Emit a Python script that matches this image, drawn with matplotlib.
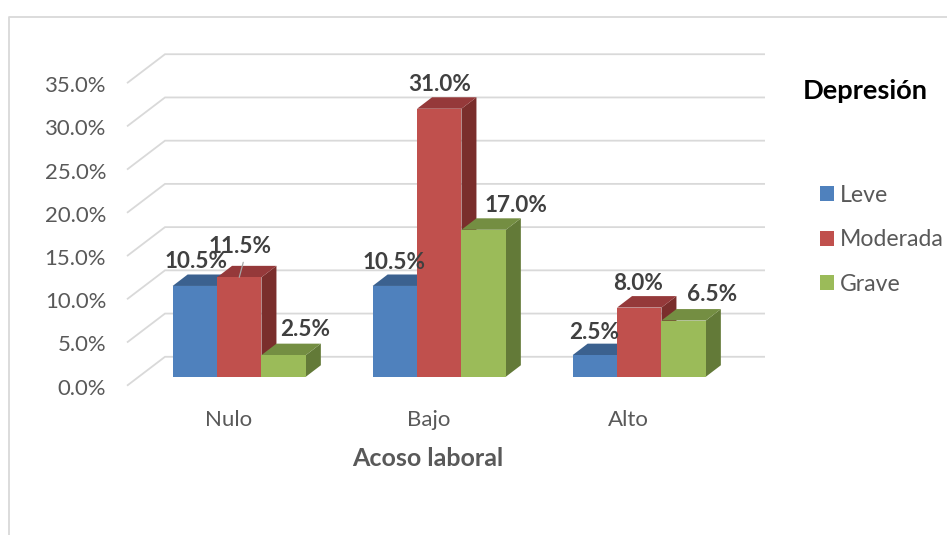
import matplotlib
matplotlib.use("Agg")
import matplotlib.pyplot as plt
from matplotlib.lines import Line2D
from matplotlib.patches import Patch, Polygon

categories = ["Nulo", "Bajo", "Alto"]
leve = [10.5, 10.5, 2.5]
moderada = [11.5, 31.0, 8.0]
grave = [2.5, 17.0, 6.5]
series_names = ["Leve", "Moderada", "Grave"]
y_ticks = [0, 5, 10, 15, 20, 25, 30, 35]

W, H = 947, 535
PX_X = 200.0   # pixels per category
PX_Y = 8.67    # pixels per percent

front_colors = ["#4F81BD", "#C0504D", "#9BBB59"]
top_colors = ["#3B618F", "#95393A", "#748E42"]
side_colors = ["#335478", "#7A2E2C", "#637A38"]
TEXT = "#595959"
LABEL = "#404040"
GRID = "#D9D9D9"

plt.rcParams["font.family"] = ["Lato", "DejaVu Sans"]

fig = plt.figure(figsize=(W / 100, H / 100), dpi=100)

# axes box in pixels, bars stand on y=0 at pixel row 377.7
zero_row = 377.7
left, right, top, bottom = 127, 765, 45.7, 386.7
ax = fig.add_axes([left / W, 1 - bottom / H, (right - left) / W, (bottom - top) / H])
ax.set_xlim((left - 239.25) / PX_X, (right - 239.25) / PX_X)
y_front = (zero_row - bottom) / PX_Y
ax.set_ylim(y_front, (zero_row - top) / PX_Y)
for s in ax.spines.values():
    s.set_visible(False)

# back wall lines with the oblique run towards the front
wall_dx = 38 / PX_X
wall_dy = 29 / PX_Y
x0 = ax.get_xlim()[0]
x1 = ax.get_xlim()[1]
for v in y_ticks:
    yf = v + y_front
    ax.plot([x0, x0 + wall_dx, x1], [yf, yf + wall_dy, yf + wall_dy],
            color=GRID, lw=1.3, zorder=1, solid_capstyle="butt", solid_joinstyle="miter", clip_on=False)

# bars
bar_w = 44.4 / PX_X
depth_x = 15 / PX_X
depth_y = 11.5 / PX_Y
all_series = [leve, moderada, grave]
z = 2
for i in range(len(categories)):
    for j, vals in enumerate(all_series):
        x = i + (j - 1) * bar_w
        v = vals[i]
        l = x - bar_w / 2
        r = x + bar_w / 2
        ax.add_patch(Polygon([(r, 0), (r + depth_x, depth_y), (r + depth_x, v + depth_y), (r, v)],
                             facecolor=side_colors[j], edgecolor="none", zorder=z))
        ax.add_patch(Polygon([(l, v), (l + depth_x, v + depth_y), (r + depth_x, v + depth_y), (r, v)],
                             facecolor=top_colors[j], edgecolor="none", zorder=z))
        ax.bar(x, v, width=bar_w, color=front_colors[j], zorder=z + 0.5)
        z += 1

# data labels, offsets in pixels from the top of each bar's front
label_offsets = [
    [(1, 24), (1, 31), (21, 26)],
    [(-1, 23), (0, 24), (32, 24)],
    [(-1, 23), (-1, 24), (28, 26)],
]
for i in range(len(categories)):
    for j, vals in enumerate(all_series):
        x = i + (j - 1) * bar_w
        dx, dy = label_offsets[i][j]
        ax.annotate(f"{vals[i]:.1f}%", xy=(x, vals[i]), xytext=(dx * 0.72, dy * 0.72),
                    textcoords="offset points", ha="center", va="center",
                    fontsize=16.2, fontweight="bold", color=LABEL, zorder=50)

# leader line of the 11.5% label
ax.annotate("", xy=(0, moderada[0]), xytext=(4 * 0.72, 15 * 0.72),
            textcoords="offset points",
            arrowprops=dict(arrowstyle="-", color="#A6A6A6", lw=0.9, shrinkA=0, shrinkB=0), zorder=49)

# labels sit a little under their front grid line, and left of the group centre
ax.set_yticks([v + y_front - 1 / PX_Y for v in y_ticks])
ax.set_yticklabels([f"{v:.1f}%" for v in y_ticks], fontsize=15.9, color=TEXT)
ax.set_xticks([i - 11 / PX_X for i in range(len(categories))])
ax.set_xticklabels(categories, fontsize=16, color=TEXT)
ax.tick_params(axis="both", length=0)
ax.tick_params(axis="y", pad=15)
ax.tick_params(axis="x", pad=16.5)
ax.set_xlabel("Acoso laboral", fontsize=18, fontweight="bold", color=TEXT)
ax.xaxis.set_label_coords((428 - left) / (right - left), (bottom - 458.5) / (bottom - top), transform=ax.transAxes)
ax.xaxis.label.set_va("center")

fig.text(865.5 / W, 1 - 91 / H, "Depresión", fontsize=19.6, fontweight="bold",
         color="black", ha="center", va="center")

handles = [Patch(facecolor=c, edgecolor="none") for c in front_colors]
fig.legend(handles, series_names, loc="upper left", bbox_to_anchor=(820 / W, 1 - 185 / H),
           bbox_transform=fig.transFigure, frameon=False, fontsize=16.6, labelcolor=TEXT,
           handlelength=0.61, handleheight=0.61, handletextpad=0.26, labelspacing=1.015,
           borderpad=0, borderaxespad=0)

# chart border, runs off the right and bottom edges
border = Line2D([9 / W, 9 / W, 1], [0, 1 - 17 / H, 1 - 17 / H], transform=fig.transFigure,
                color=GRID, lw=1.3)
fig.add_artist(border)

fig.savefig("out.png", dpi=100)
